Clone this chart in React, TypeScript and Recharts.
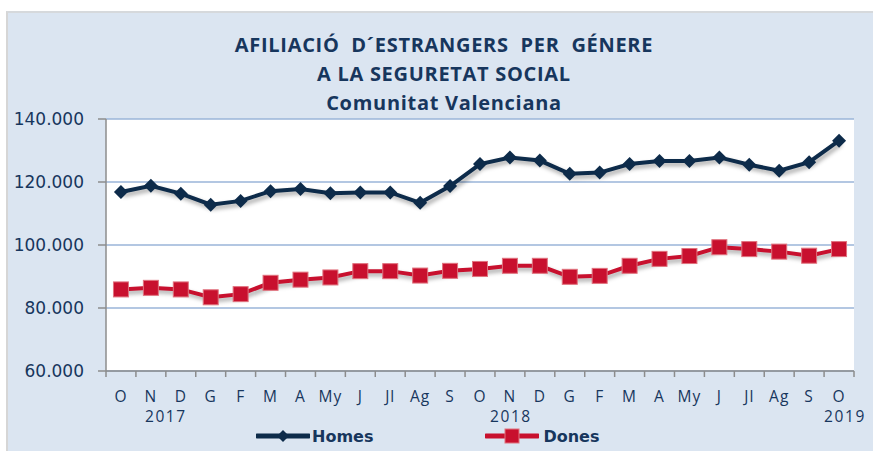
import React from 'react';
import { LineChart, Line, XAxis, YAxis, CartesianGrid } from 'recharts';

// monthly labels Oct 2017 .. Oct 2019
const months = ['O', 'N', 'D', 'G', 'F', 'M', 'A', 'My', 'J', 'Jl', 'Ag', 'S', 'O', 'N', 'D', 'G', 'F', 'M', 'A', 'My', 'J', 'Jl', 'Ag', 'S', 'O'];
const years: Record<number, string> = { 1: '2017', 13: '2018', 24: '2019' };

const homes = [116800, 118800, 116300, 112800, 114000, 117100, 117800, 116400, 116700, 116700, 113400, 118700, 125700, 127800, 126800, 122600, 123000, 125700, 126700, 126700, 127800, 125500, 123600, 126300, 133100];
const dones = [85900, 86400, 85900, 83400, 84400, 88000, 89000, 89700, 91700, 91700, 90300, 91800, 92400, 93400, 93400, 89900, 90200, 93400, 95600, 96500, 99300, 98700, 97900, 96600, 98700];

const yTicks = [60000, 80000, 100000, 120000, 140000];

const data = months.map((m, i) => ({ idx: i, month: m, homes: homes[i], dones: dones[i] }));

const NAVY = '#0d2b4a';
const RED = '#c8102e';
const TEXT = '#17365d';
const GRID = '#9ab5d8';
const AXIS = '#8c8c8c';
const sans = '"Open Sans", "Noto Sans", Arial, sans-serif';

const fmt = (v: number) => v.toLocaleString('de-DE');

const Diamond = (props: any) => {
  const { cx, cy, index } = props;
  const r = 7;
  return <polygon key={`d${index}`} points={`${cx},${cy - r} ${cx + r},${cy} ${cx},${cy + r} ${cx - r},${cy}`} fill={NAVY} />;
};

const Square = (props: any) => {
  const { cx, cy, index } = props;
  const s = 15;
  return <rect key={`s${index}`} x={cx - s / 2} y={cy - s / 2} width={s} height={s} fill={RED} stroke="#e0727e" strokeWidth={1} />;
};

const MonthTick = (props: any) => {
  const { x, y, payload, index } = props;
  const half = 14.96;
  const year = years[index];
  return (
    <g>
      <line x1={x - half} y1={y} x2={x - half} y2={y + 6} stroke={AXIS} strokeWidth={1.5} />
      {index === months.length - 1 && <line x1={x + half} y1={y} x2={x + half} y2={y + 6} stroke={AXIS} strokeWidth={1.5} />}
      <text x={x} y={y + 31} textAnchor="middle" fill={TEXT} fontSize={15.5} letterSpacing={1} fontFamily={sans}>{months[payload.value]}</text>
      {year && (
        <text x={x + (index === 1 ? 15 : index === 24 ? 6 : 1)} y={y + 51} textAnchor="middle" fill={TEXT} fontSize={15.5} letterSpacing={1.6} fontFamily={sans}>{year}</text>
      )}
    </g>
  );
};

export default function App() {
  return (
    <div style={{ position: 'absolute', left: 0, top: 0, width: 873, height: 451, background: '#fff', overflow: 'hidden' }}>
      <style>{`.shadowed { filter: drop-shadow(2px 3px 2px rgba(0,0,0,0.35)); }`}</style>
      <div style={{ position: 'absolute', left: 6, top: 11, width: 900, height: 460, background: '#dbe5f1', borderTop: '2px solid #d6d9dc', borderLeft: '2px solid #d6d6d6' }} />
      <div style={{ position: 'absolute', left: 0, top: 30, width: 888, textAlign: 'center', color: TEXT, fontFamily: sans, fontWeight: 'bold', fontSize: 20, letterSpacing: 0.7, lineHeight: '29px' }}>
        <div>AFILIACIÓ&nbsp; D´ESTRANGERS&nbsp; PER&nbsp; GÉNERE</div>
        <div>A LA SEGURETAT SOCIAL</div>
        <div>Comunitat Valenciana</div>
      </div>
      <div style={{ position: 'absolute', left: 0, top: 0 }}>
        <LineChart width={873} height={451} data={data} margin={{ top: 119, right: 19, bottom: 0, left: 0 }}>
          <CartesianGrid vertical={false} stroke={GRID} strokeWidth={1.5} fill="#fff" />
          <XAxis
            dataKey="idx"
            type="category"
            scale="band"
            height={80}
            interval={0}
            tickSize={0}
            tickMargin={0}
            axisLine={{ stroke: AXIS, strokeWidth: 1.5 }}
            tick={<MonthTick />}
          />
          <YAxis
            width={106}
            domain={[60000, 140000]}
            ticks={yTicks}
            tickFormatter={fmt}
            tickSize={8}
            tickMargin={14}
            axisLine={{ stroke: AXIS, strokeWidth: 1.5 }}
            tickLine={{ stroke: AXIS, strokeWidth: 1.5 }}
            tick={{ fill: TEXT, fontSize: 17, fontFamily: '"DejaVu Sans", Verdana, sans-serif' }}
          />
          <Line className="shadowed" dataKey="homes" stroke={NAVY} strokeWidth={4} dot={<Diamond />} activeDot={false} isAnimationActive={false} />
          <Line className="shadowed" dataKey="dones" stroke={RED} strokeWidth={4} dot={<Square />} activeDot={false} isAnimationActive={false} />
        </LineChart>
      </div>
      <div style={{ position: 'absolute', left: 256, top: 426, display: 'flex', alignItems: 'center', fontFamily: '"DejaVu Sans", Verdana, sans-serif', fontWeight: 'bold', fontSize: 16, color: TEXT }}>
        <svg width={54} height={20}>
          <line x1={1} y1={10} x2={53} y2={10} stroke={NAVY} strokeWidth={5} strokeLinecap="round" />
          <polygon points="27,4 33,10 27,16 21,10" fill={NAVY} />
        </svg>
        <span style={{ marginLeft: 2 }}>Homes</span>
        <svg width={54} height={20} style={{ marginLeft: 112 }}>
          <line x1={1} y1={10} x2={53} y2={10} stroke={RED} strokeWidth={5} strokeLinecap="round" />
          <rect x={20} y={3} width={14} height={14} fill={RED} stroke="#e0727e" />
        </svg>
        <span style={{ marginLeft: 4 }}>Dones</span>
      </div>
    </div>
  );
}
